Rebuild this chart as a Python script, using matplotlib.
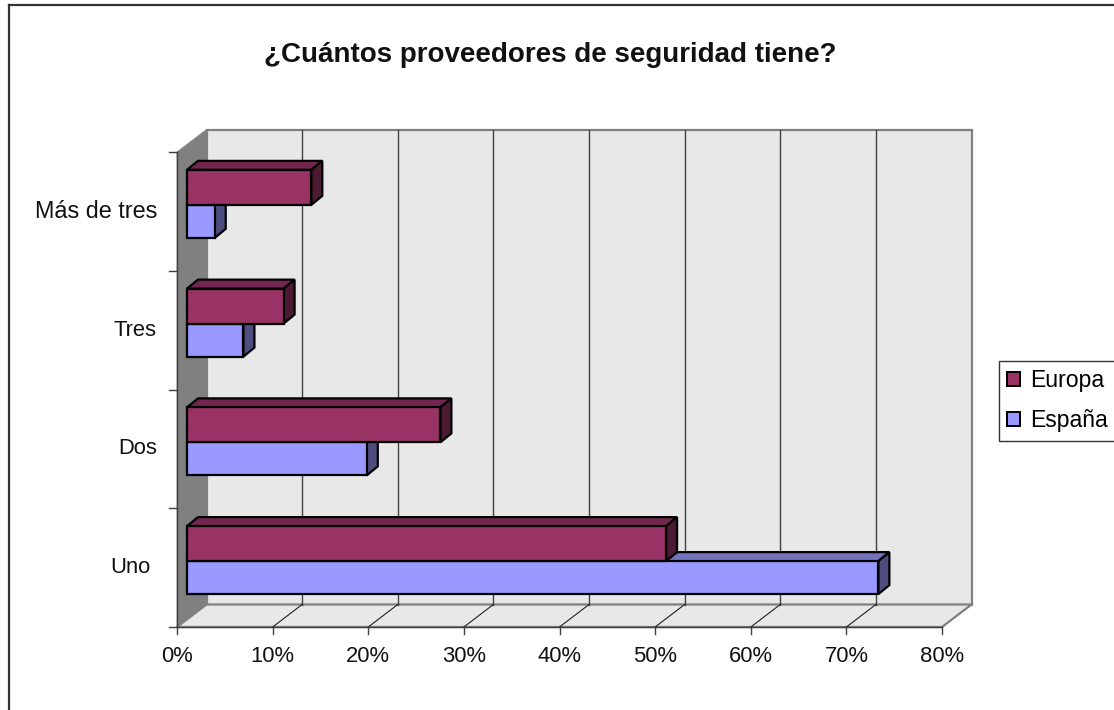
import matplotlib
matplotlib.use("Agg")
import matplotlib.pyplot as plt
from matplotlib.lines import Line2D
from matplotlib.patches import Patch

plt.rcParams['font.family'] = ['Liberation Sans', 'DejaVu Sans']

# --- Data ---
categories = ['Uno', 'Dos', 'Tres', 'Más de tres']
europa = [50.1, 26.5, 10.1, 13.0]
espana = [72.3, 18.8, 5.9, 2.9]
x_ticks = [0, 10, 20, 30, 40, 50, 60, 70, 80]
title = '¿Cuántos proveedores de seguridad tiene?'

W, H = 1114, 710
fig = plt.figure(figsize=(W / 100, H / 100), dpi=100, facecolor='white')

# axes = the front plane of the 3D box, in pixels: x 177..942, y 152..627
ax = fig.add_axes([177 / W, 1 - 627 / H, 765 / W, 475 / H])
ax.set_xlim(0, 80)
ax.set_ylim(0, 4)
ax.axis('off')

PX = 80 / 765    # one pixel in x data units
PY = 4 / 475     # one pixel in y data units

# depth of the box in data units
DX = 29.5 * PX
DY = 22.5 * PY
# bars sit partway into the box
BX = 10 * PX
BY = 6.5 * PY
BDX = 11 * PX
BDY = 9 * PY
EU_H = 35 * PY
ES_H = 33 * PY

GREY = '#808080'
WALL = '#E8E8E8'
TXT = '#111111'
FS = 15.8

# back wall, floor, side wall
ax.fill([DX, 80 + DX, 80 + DX, DX], [DY, DY, 4 + DY, 4 + DY], fc=WALL, ec=GREY, lw=1.6, clip_on=False, zorder=1)
ax.fill([0, 80, 80 + DX, DX], [0, 0, DY, DY], fc=WALL, ec=GREY, lw=1.6, clip_on=False, zorder=1)
ax.fill([0, DX, DX, 0], [0, DY, 4 + DY, 4], fc=GREY, ec=GREY, lw=0.5, clip_on=False, zorder=1)

# grid on back wall and floor
for t in x_ticks[1:-1]:
    ax.plot([t + DX, t + DX], [DY, 4 + DY], color='#404040', lw=1, clip_on=False, zorder=2)
    ax.plot([t, t + DX], [0, DY], color='#202020', lw=0.8, clip_on=False, zorder=2)

# axis lines and ticks
ax.plot([0, 0], [0, 4], color='#404040', lw=1, clip_on=False, zorder=2)
ax.plot([0, 80], [0, 0], color='#404040', lw=1, clip_on=False, zorder=2)
for t in x_ticks:
    ax.plot([t, t], [0, -7 * PY], color='#404040', lw=1, clip_on=False, zorder=2)
    ax.text(t, -35 * PY, f'{t}%', ha='center', va='baseline', fontsize=FS, color=TXT)
for i in range(5):
    ax.plot([-8 * PX, 0], [i, i], color='#404040', lw=1, clip_on=False, zorder=2)
for i, c in enumerate(categories):
    # the first label sits a little further left in the original
    nudge = 26 if c == 'Uno' else 20
    fs = 16.8 if c == 'Más de tres' else FS
    ax.text(-nudge * PX, i + 0.5, c, ha='right', va='center', fontsize=fs, color=TXT)


def bar3d(value, y0, h, front, top, side, z):
    x0, x1 = BX, BX + value
    y1 = y0 + h
    kw = dict(ec='black', lw=1.6, joinstyle='miter', clip_on=False, zorder=z)
    ax.fill([x0, x0 + BDX, x1 + BDX, x1], [y1, y1 + BDY, y1 + BDY, y1], fc=top, **kw)
    ax.fill([x1, x1 + BDX, x1 + BDX, x1], [y0, y0 + BDY, y1 + BDY, y1], fc=side, **kw)
    ax.fill([x0, x1, x1, x0], [y0, y0, y1, y1], fc=front, **kw)


EU = ('#993366', '#732650', '#4D1A33')
ES = ('#9999FF', '#7373BF', '#4D4D80')
for i in reversed(range(len(categories))):
    base = i + 0.5 + BY - ES_H
    bar3d(espana[i], base, ES_H, *ES, z=3 + (4 - i) * 2)
    bar3d(europa[i], base + ES_H, EU_H, *EU, z=4 + (4 - i) * 2)

fig.text(550 / W, 1 - 61.5 / H, title, ha='center', va='baseline', fontsize=20, fontweight='bold', color=TXT)

# chart border: only the left and top edges show in the picture
fig.add_artist(Line2D([9 / W, 9 / W], [0, 1 - 5 / H], color='#333333', lw=1.6))
fig.add_artist(Line2D([9 / W, 1], [1 - 5 / H, 1 - 5 / H], color='#333333', lw=1.6))

# legend
handles = [Patch(fc=EU[0], ec='black', lw=1.4, label='Europa'), Patch(fc=ES[0], ec='black', lw=1.4, label='España')]
leg = fig.legend(handles=handles, loc='upper left', bbox_to_anchor=(998.5 / W, 1 - 360.5 / H), fontsize=16.6,
                 frameon=True, fancybox=False, edgecolor='#333333', framealpha=1, borderpad=0.38,
                 handlelength=0.56, handleheight=0.56, handletextpad=0.42, labelspacing=0.74, borderaxespad=0)
leg.get_frame().set_linewidth(1)

fig.savefig('out.png', dpi=100)
